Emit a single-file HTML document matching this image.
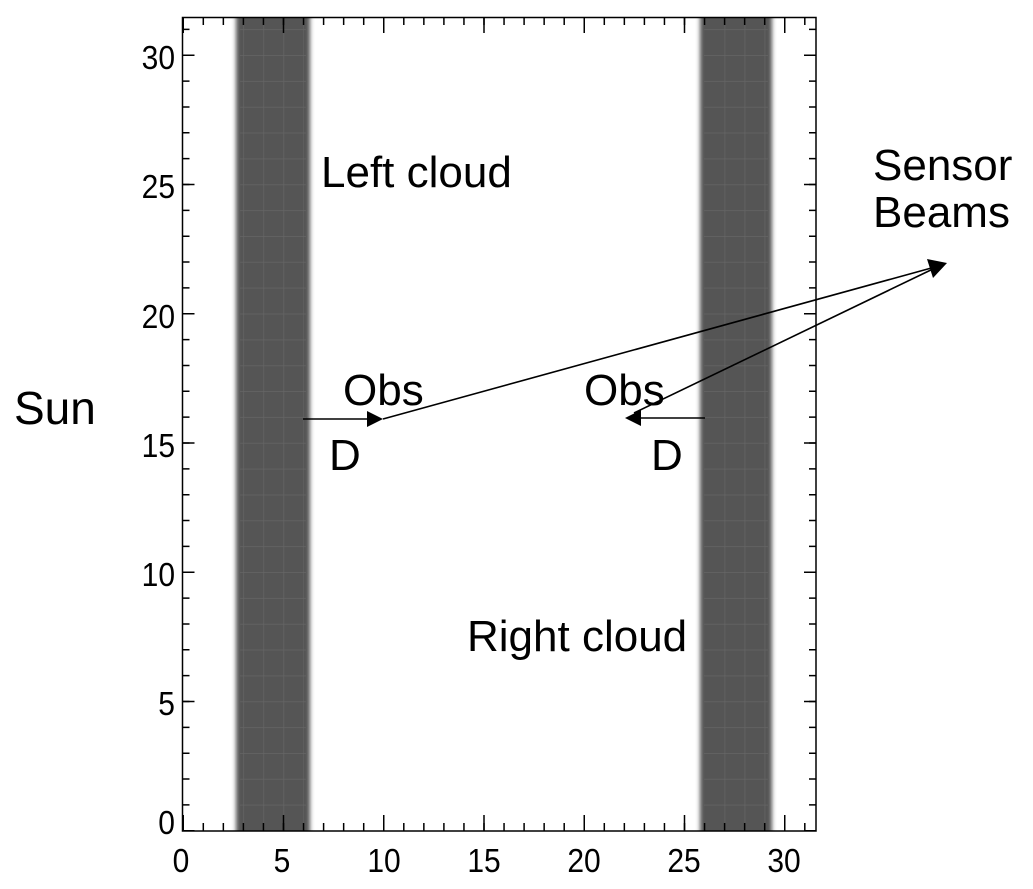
<!DOCTYPE html>
<html><head><meta charset="utf-8"><style>
html,body{margin:0;padding:0;background:#fff;}
svg{display:block;}
text{font-family:"Liberation Sans",Arial,sans-serif;fill:#000;}
</style></head><body>
<svg width="1033" height="889" viewBox="0 0 1033 889" xmlns="http://www.w3.org/2000/svg">
<defs>
<filter id="bl" x="-20%" y="-5%" width="140%" height="110%"><feGaussianBlur stdDeviation="2.2 0"/></filter>
<clipPath id="cp"><rect x="182" y="17" width="634" height="814"/></clipPath>
<clipPath id="bands"><rect x="242" y="17" width="62" height="814"/><rect x="706" y="17" width="60" height="814"/></clipPath>
</defs>
<g clip-path="url(#cp)">
<rect x="236" y="0" width="74" height="900" fill="#555" filter="url(#bl)"/>
<rect x="700" y="0" width="72" height="900" fill="#555" filter="url(#bl)"/>
<g stroke="#676767" opacity="0.7">
<line x1="273" y1="831.5" x2="273" y2="17" stroke-width="66" stroke-dasharray="1 24.85"/>
<line x1="736" y1="831.5" x2="736" y2="17" stroke-width="64" stroke-dasharray="1 24.85"/>
</g>
</g>
<g stroke="#676767" opacity="0.7" clip-path="url(#bands)">
<line x1="183" y1="424" x2="816" y2="424" stroke-width="814" stroke-dasharray="1 19.05"/>
</g>
<rect x="182.5" y="17.5" width="633.5" height="813.5" fill="none" stroke="#000" stroke-width="1.5"/>
<line x1="182.5" y1="827" x2="816" y2="827" stroke="#000" stroke-width="8" stroke-dasharray="1.5 18.55"/>
<line x1="182.5" y1="823" x2="816" y2="823" stroke="#000" stroke-width="16" stroke-dasharray="1.5 98.75"/>
<line x1="182.5" y1="21" x2="816" y2="21" stroke="#000" stroke-width="8" stroke-dasharray="1.5 18.55"/>
<line x1="182.5" y1="25" x2="816" y2="25" stroke="#000" stroke-width="16" stroke-dasharray="1.5 98.75"/>
<line x1="186" y1="831.5" x2="186" y2="17" stroke="#000" stroke-width="7" stroke-dasharray="1.5 24.35"/>
<line x1="188.5" y1="831.5" x2="188.5" y2="17" stroke="#000" stroke-width="12" stroke-dasharray="1.5 127.75"/>
<line x1="812.5" y1="831.5" x2="812.5" y2="17" stroke="#000" stroke-width="7" stroke-dasharray="1.5 24.35"/>
<line x1="810" y1="831.5" x2="810" y2="17" stroke="#000" stroke-width="12" stroke-dasharray="1.5 127.75"/>
<g font-size="30" text-anchor="middle">
<text transform="translate(181,872) scale(1,1.12)">0</text>
<text transform="translate(282,872) scale(1,1.12)">5</text>
<text transform="translate(384,872) scale(1,1.12)">10</text>
<text transform="translate(484,872) scale(1,1.12)">15</text>
<text transform="translate(584,872) scale(1,1.12)">20</text>
<text transform="translate(684,872) scale(1,1.12)">25</text>
<text transform="translate(784,872) scale(1,1.12)">30</text>
</g>
<g font-size="30" text-anchor="end">
<text transform="translate(175,834) scale(1,1.12)">0</text>
<text transform="translate(175,715) scale(1,1.12)">5</text>
<text transform="translate(175,586) scale(1,1.12)">10</text>
<text transform="translate(175,457) scale(1,1.12)">15</text>
<text transform="translate(175,328) scale(1,1.12)">20</text>
<text transform="translate(175,198) scale(1,1.12)">25</text>
<text transform="translate(175,69) scale(1,1.12)">30</text>
</g>
<g stroke="#000" stroke-width="1.6" fill="none">
<line x1="303" y1="419" x2="370" y2="419"/>
<line x1="383" y1="419" x2="935" y2="267"/>
<line x1="705" y1="418" x2="638" y2="418"/>
<line x1="634" y1="413" x2="935" y2="268"/>
</g>
<g fill="#000">
<polygon points="383,419 367,411 367,427"/>
<polygon points="625,418 641,410 641,426"/>
<polygon points="947,263 927,259 933,278"/>
</g>
<g font-size="44">
<text x="321" y="187">Left cloud</text>
<text x="14" y="424" font-size="46">Sun</text>
<text x="873" y="180">Sensor</text>
<text x="873" y="227">Beams</text>
<text x="343" y="405">Obs</text>
<text x="329" y="470">D</text>
<text x="584" y="405">Obs</text>
<text x="651" y="470">D</text>
<text x="467" y="651">Right cloud</text>
</g>
</svg>
</body></html>
